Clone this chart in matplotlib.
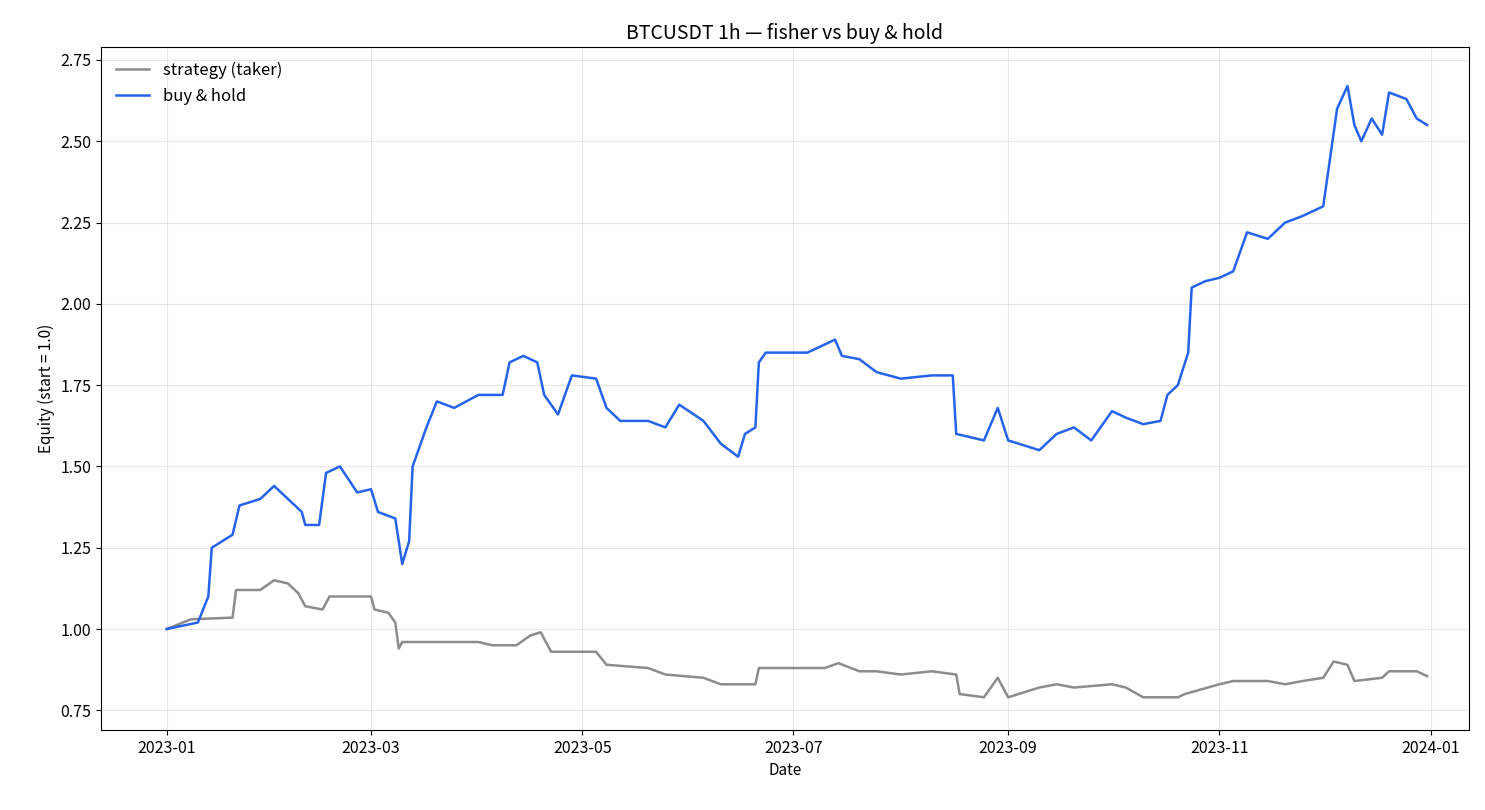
import matplotlib
matplotlib.use("Agg")
import matplotlib.pyplot as plt
import pandas as pd

plt.rcParams['font.family'] = ['Noto Sans CJK KR', 'DejaVu Sans']

bh_dates = ["01-01","01-10","01-13","01-14","01-20","01-22","01-28","02-01","02-05","02-09","02-10","02-14","02-16","02-20","02-25","03-01","03-03","03-08","03-10","03-12","03-13","03-17","03-20","03-25","04-01","04-08","04-10","04-14","04-18","04-20","04-24","04-28","05-05","05-08","05-12","05-20","05-25","05-29","06-05","06-10","06-15","06-17","06-20","06-21","06-23","07-01","07-05","07-13","07-15","07-20","07-25","08-01","08-10","08-16","08-17","08-25","08-29","09-01","09-10","09-15","09-20","09-25","10-01","10-05","10-10","10-15","10-17","10-20","10-23","10-24","10-28","11-01","11-05","11-09","11-15","11-20","11-25","12-01","12-03","12-05","12-08","12-10","12-12","12-15","12-18","12-20","12-25","12-28","12-31"]
bh_vals = [1.00,1.02,1.10,1.25,1.29,1.38,1.40,1.44,1.40,1.36,1.32,1.32,1.48,1.50,1.42,1.43,1.36,1.34,1.20,1.27,1.50,1.62,1.70,1.68,1.72,1.72,1.82,1.84,1.82,1.72,1.66,1.78,1.77,1.68,1.64,1.64,1.62,1.69,1.64,1.57,1.53,1.60,1.62,1.82,1.85,1.85,1.85,1.89,1.84,1.83,1.79,1.77,1.78,1.78,1.60,1.58,1.68,1.58,1.55,1.60,1.62,1.58,1.67,1.65,1.63,1.64,1.72,1.75,1.85,2.05,2.07,2.08,2.10,2.22,2.20,2.25,2.27,2.30,2.45,2.60,2.67,2.55,2.50,2.57,2.52,2.65,2.63,2.57,2.55]

st_dates = ["01-01","01-08","01-20","01-21","01-28","02-01","02-05","02-08","02-10","02-15","02-17","02-25","03-01","03-02","03-06","03-08","03-09","03-10","04-01","04-05","04-12","04-16","04-19","04-22","05-05","05-08","05-20","05-25","06-05","06-10","06-20","06-21","07-10","07-14","07-20","07-25","08-01","08-10","08-17","08-18","08-25","08-29","09-01","09-10","09-15","09-20","10-01","10-05","10-10","10-20","10-22","11-01","11-05","11-15","11-20","11-25","12-01","12-04","12-08","12-10","12-18","12-20","12-28","12-31"]
st_vals = [1.00,1.03,1.035,1.12,1.12,1.15,1.14,1.11,1.07,1.06,1.10,1.10,1.10,1.06,1.05,1.02,0.94,0.96,0.96,0.95,0.95,0.98,0.99,0.93,0.93,0.89,0.88,0.86,0.85,0.83,0.83,0.88,0.88,0.895,0.87,0.87,0.86,0.87,0.86,0.80,0.79,0.85,0.79,0.82,0.83,0.82,0.83,0.82,0.79,0.79,0.80,0.83,0.84,0.84,0.83,0.84,0.85,0.90,0.89,0.84,0.85,0.87,0.87,0.855]

bh_x = pd.to_datetime(["2023-" + d for d in bh_dates])
st_x = pd.to_datetime(["2023-" + d for d in st_dates])

fig, ax = plt.subplots(figsize=(14.85, 8.1), dpi=100)
ax.plot(st_x, st_vals, color="#8c8c8c", lw=1.8, label="strategy (taker)")
ax.plot(bh_x, bh_vals, color="#2563eb", lw=1.8, label="buy & hold")
ax.set_title("BTCUSDT 1h — fisher vs buy & hold", fontsize=14)
ax.set_xlabel("Date", fontsize=11)
ax.set_ylabel("Equity (start = 1.0)", fontsize=11)
ax.set_ylim(0.69, 2.79)
ax.set_yticks([0.75,1.0,1.25,1.5,1.75,2.0,2.25,2.5,2.75])
ax.set_xticks(pd.to_datetime(["2023-01-01","2023-03-01","2023-05-01","2023-07-01","2023-09-01","2023-11-01","2024-01-01"]))
ax.set_xticklabels(["2023-01","2023-03","2023-05","2023-07","2023-09","2023-11","2024-01"])
ax.set_xlim(pd.Timestamp("2022-12-13"), pd.Timestamp("2024-01-12"))
ax.tick_params(labelsize=11.5)
ax.grid(True, alpha=0.3)
ax.legend(loc="upper left", frameon=False, fontsize=12)
fig.subplots_adjust(left=0.068, right=0.989, top=0.942, bottom=0.099)
fig.savefig("out.png")
